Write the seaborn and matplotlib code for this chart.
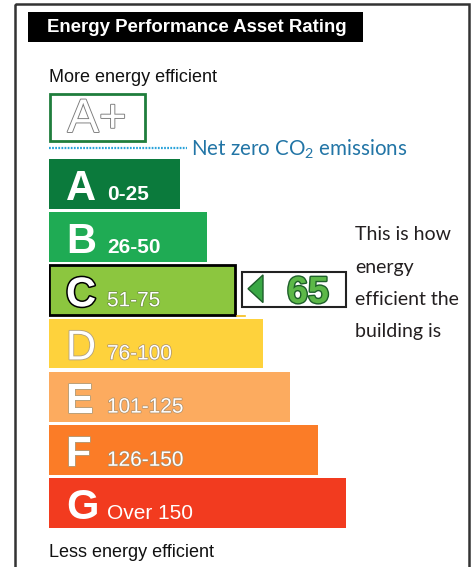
import matplotlib
matplotlib.use("Agg")
import matplotlib.pyplot as plt
import matplotlib.patheffects as pe
from matplotlib.patches import Rectangle, Polygon
import seaborn as sns
import pandas as pd

# --- Data ---
bands = ["A", "B", "C", "D", "E", "F", "G"]
ranges = ["0-25", "26-50", "51-75", "76-100", "101-125", "126-150", "Over 150"]
band_upper = [25, 50, 75, 100, 125, 150, 10**6]
bar_len = [131, 158, 186, 214, 241, 269, 297]
colors = ["#0b7a3c", "#1fab54", "#8cc63f", "#fed23c", "#fcab5f", "#fb7c27", "#f23b1f"]
rating = 65
side_note = ["This is how", "energy", "efficient the", "building is"]

df = pd.DataFrame({"band": bands, "length": bar_len, "range": ranges})
rated_idx = next(i for i, u in enumerate(band_upper) if rating <= u)

W, H = 477, 567
fig = plt.figure(figsize=(W / 100, H / 100), dpi=100)

# --- Background layer in pixel coords ---
bg = fig.add_axes([0, 0, 1, 1])
bg.set_xlim(0, W)
bg.set_ylim(H, 0)
bg.set_axis_off()

bg.add_patch(Rectangle((15, 4), 454, 580, fill=False, ec="#333333", lw=1.8))
bg.add_patch(Rectangle((28, 12), 335, 30, fc="black", ec="none"))
bg.text(197, 27, "Energy Performance Asset Rating", color="white", fontsize=13.4,
        fontweight="bold", family="Liberation Sans", ha="center", va="center")
bg.text(49, 82, "More energy efficient", fontsize=13, family="Liberation Sans",
        color="#111111", va="baseline")
bg.text(49, 557, "Less energy efficient", fontsize=13, family="Liberation Sans",
        color="#111111", va="baseline")

# A+ box
bg.add_patch(Rectangle((50, 94), 95, 47, fill=False, ec="#1f7d3c", lw=2))
bg.text(97, 132, "A+", fontsize=34, family="Liberation Sans", color="white",
        ha="center", va="baseline",
        path_effects=[pe.withStroke(linewidth=1.3, foreground="#7a7a7a")])

# net zero line
bg.plot([49, 187], [148, 148], color="#2aa3da", lw=1.6, linestyle=(0, (0.8, 0.6)))
plt.rcParams["mathtext.fontset"] = "custom"
plt.rcParams["mathtext.rm"] = "Lato"
bg.text(191, 155, "Net zero CO$_\\mathregular{2}$ emissions", fontsize=14.8,
        family="Lato", color="#2275a6", va="baseline")

for k, line in enumerate(side_note):
    bg.text(355, 240 + 32.5 * k, line, fontsize=14, family="Lato",
            color="#231f20", va="baseline")

# --- Bars ---
top, bot = 157.4, 529.6
left = 49
bax = fig.add_axes([left / W, 1 - bot / H, (W - left) / W, (bot - top) / H])
bax.patch.set_alpha(0)
sns.barplot(data=df, x="length", y="band", hue="band", palette=colors,
            orient="h", width=0.94, legend=False, ax=bax, saturation=1)
bax.set_xlim(0, W - left)
bax.set_ylim(6.5, -0.5)
bax.set_axis_off()

bax.patches[rated_idx].set_edgecolor("black")
bax.patches[rated_idx].set_linewidth(2)

for i, (b, r) in enumerate(zip(bands, ranges)):
    if i == rated_idx:
        fx = [pe.withStroke(linewidth=2.2, foreground="black")]
        rfx = [pe.withStroke(linewidth=1, foreground="#6b8f3a")]
    elif i in (3, 4, 5):
        fx = [pe.withStroke(linewidth=1.2, foreground="#b0a080")]
        rfx = [pe.withStroke(linewidth=1, foreground="#a89070")]
    else:
        fx, rfx = None, None
    weight = "normal" if i == 3 else "bold"
    bax.text(17, i + 0.30, b, fontsize=30, fontweight=weight, family="Liberation Sans",
             color="white", va="baseline", path_effects=fx)
    bax.text(58, i + 0.30, r, fontsize=15, family="Liberation Sans",
             fontweight="bold" if i in (0, 1) else "normal",
             color="white", va="baseline", path_effects=rfx)

# --- Rating marker ---
x0 = bar_len[rated_idx] + 7
y0 = rated_idx
bax.add_patch(Rectangle((x0, y0 - 0.35), 104, 0.66, fc="white", ec="#222222", lw=1.5))
bax.add_patch(Polygon([[x0 + 6, y0 - 0.03], [x0 + 21, y0 - 0.29], [x0 + 21, y0 + 0.23]],
                      closed=True, fc="#3aa845", ec="#1d5e2a", lw=1))
bax.text(x0 + 66, y0 + 0.235, str(rating), fontsize=27, fontweight="bold",
         family="Liberation Sans", color="#5cb848", ha="center", va="baseline",
         path_effects=[pe.withStroke(linewidth=2, foreground="#1d5e2a")])
bax.plot([bar_len[rated_idx] + 2, bar_len[rated_idx] + 10], [y0 + 0.49, y0 + 0.49],
         color="#f5bd1a", lw=1.2)

fig.savefig("out.png", dpi=100)
